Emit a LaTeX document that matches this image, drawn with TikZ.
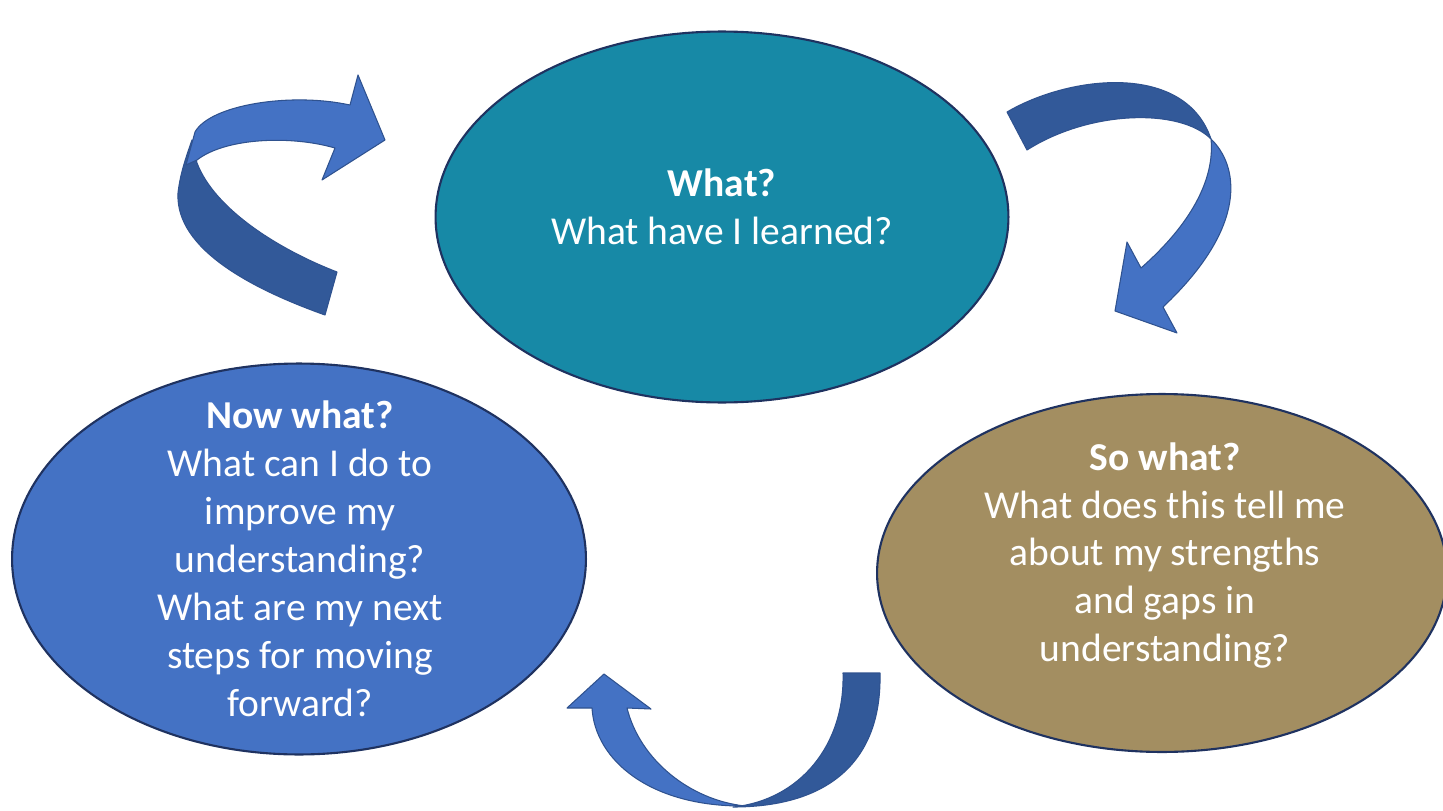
\documentclass[tikz,border=0pt]{standalone}
\usepackage{fontspec}
\setmainfont{Carlito}
\usepackage{tikz}
\usetikzlibrary{shapes.geometric}
\definecolor{whatfill}{RGB}{23,137,166}
\definecolor{nowfill}{RGB}{68,114,196}
\definecolor{sofill}{RGB}{163,142,97}
\definecolor{rimline}{RGB}{31,50,96}
\definecolor{ribbonlight}{RGB}{68,114,196}
\definecolor{ribbondark}{RGB}{50,89,153}
\definecolor{ribbonline}{RGB}{47,82,143}
\tikzstyle{bubble} = [ellipse, draw=rimline, line width=1.2pt, inner sep=0pt]
\tikzstyle{caption} = [text=white, align=center, inner sep=0pt, font=\fontsize{22.5}{27.3}\selectfont]
\tikzstyle{ribbon} = [draw=ribbonline, line width=0.6pt, line join=round]

\begin{document}
\begin{tikzpicture}[x=0.02cm, y=-0.02cm]
            \useasboundingbox (0,0) rectangle (1443,811);
            \clip (0,0) rectangle (1443,811);
            % Place ellipses
            \node [bubble, fill=whatfill, minimum width=11.46cm, minimum height=7.42cm] (what) at (722,217) {};
            \node [bubble, fill=nowfill, minimum width=11.48cm, minimum height=7.82cm] (nowwhat) at (299,559) {};
            \node [bubble, fill=sofill, minimum width=11.4cm, minimum height=7.16cm] (sowhat) at (1162,573) {};
            % Place texts
            \node [caption, yshift=0.2cm] (whatlbl) at (what.center) {\textbf{What?}\\What have I learned?};
            \node [caption, xshift=0.02cm] (nowlbl) at (nowwhat.center) {\textbf{Now what?}\\What can I do to\\improve my\\understanding?\\What are my next\\steps for moving\\forward?};
            \node [caption, xshift=0.06cm, yshift=0.35cm] (solbl) at (sowhat.center) {\textbf{So what?}\\What does this tell me\\about my strengths\\and gaps in\\understanding?};
            % Ribbon: now what -> what
            \fill [ribbon, fill=ribbondark] (337,272) -- (325,315) .. controls (255,290) and (175,250) .. (178,193)
              .. controls (180,175) and (185,160) .. (192,140) -- (197,163) .. controls (215,210) and (280,250) .. (337,272) -- cycle;
            \fill [ribbon, fill=ribbonlight] (186,165) -- (195,132) .. controls (210,105) and (290,92) .. (350,105)
              -- (358,75) -- (385,140) -- (322,180) -- (335,148) .. controls (290,135) and (225,138) .. (197,160) -- cycle;
            % Ribbon: what -> so what
            \fill [ribbon, fill=ribbondark] (1007,112) .. controls (1070,75) and (1185,62) .. (1211,139)
              .. controls (1180,108) and (1090,110) .. (1027,150) -- cycle;
            \fill [ribbon, fill=ribbonlight] (1211,139) .. controls (1238,165) and (1250,225) .. (1163,307)
              -- (1177,333) -- (1115,311) -- (1127,242) -- (1141,268) .. controls (1190,225) and (1215,180) .. (1211,139) -- cycle;
            % Ribbon: so what -> now what
            \fill [ribbon, fill=ribbondark] (843,673) -- (880,673) .. controls (882,760) and (830,807) .. (733,807)
              .. controls (800,800) and (845,745) .. (843,673) -- cycle;
            \fill [ribbon, fill=ribbonlight] (745,806) .. controls (650,807) and (595,760) .. (592,708)
              -- (567,708) -- (604,674) -- (651,709) -- (627,708) .. controls (640,760) and (690,800) .. (745,806) -- cycle;
\end{tikzpicture}
\end{document}
